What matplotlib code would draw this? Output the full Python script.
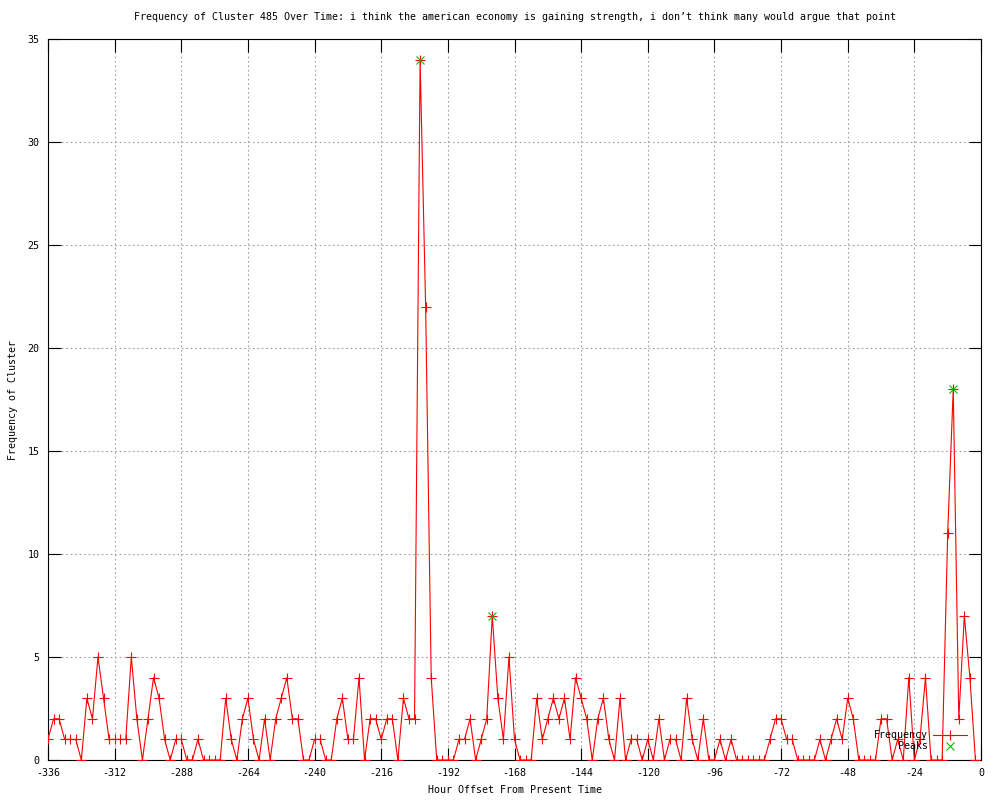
import numpy as np
import matplotlib
matplotlib.use("Agg")
import matplotlib.pyplot as plt

plt.rcParams['font.family'] = ['DejaVu Sans Mono']
plt.rcParams['axes.unicode_minus'] = False

# hours before now, every 2 hours
hours = list(range(-336, 0, 2))
freq = [1, 2, 2, 1, 1, 1, 0, 3, 2, 5, 3, 1, 1, 1, 1, 5, 2, 0, 2, 4,
        3, 1, 0, 1, 1, 0, 0, 1, 0, 0, 0, 0, 3, 1, 0, 2, 3, 1, 0, 2,
        0, 2, 3, 4, 2, 2, 0, 0, 1, 1, 0, 0, 2, 3, 1, 1, 4, 0, 2, 2,
        1, 2, 2, 0, 3, 2, 2, 34, 22, 4, 0, 0, 0, 0, 1, 1, 2, 0, 1, 2,
        7, 3, 1, 5, 1, 0, 0, 0, 3, 1, 2, 3, 2, 3, 1, 4, 3, 2, 0, 2,
        3, 1, 0, 3, 0, 1, 1, 0, 1, 0, 2, 0, 1, 1, 0, 3, 1, 0, 2, 0,
        0, 1, 0, 1, 0, 0, 0, 0, 0, 0, 1, 2, 2, 1, 1, 0, 0, 0, 0, 1,
        0, 1, 2, 1, 3, 2, 0, 0, 0, 0, 2, 2, 0, 1, 0, 4, 0, 1, 4, 0,
        0, 0, 11, 18, 2, 7, 4, 0]

peak_hours = [-202, -176, -10]
peak_vals = [34, 7, 18]

xticks = list(range(-336, 1, 24))
yticks = list(range(0, 36, 5))

title = ("Frequency of Cluster 485 Over Time: i think the american economy is "
         "gaining strength, i don\u2019t think many would argue that point")

fig = plt.figure(figsize=(10, 8), dpi=100)
ax = fig.add_axes([0.048, 0.05, 0.933, 0.901])

ax.plot(hours, freq, color='#ff0000', lw=0.8, marker='+', ms=7, mew=0.8,
        label='Frequency', zorder=3)
ax.plot(peak_hours, peak_vals, ls='none', color='#00c000', marker='x', ms=5.5,
        mew=0.8, label='    Peaks', zorder=4)

ax.set_xlim(-336, 0)
ax.set_ylim(0, 35)
ax.set_xticks(xticks)
ax.set_yticks(yticks)
ax.tick_params(direction='in', length=9, width=0.8, labelsize=7.2,
               top=True, right=True, colors='black')
ax.tick_params(axis='x', pad=6)
ax.tick_params(axis='y', pad=6)
ax.grid(True, color='#a0a0a0', ls=(0, (1.5, 2.5)), lw=0.8)
ax.set_axisbelow(True)
for s in ax.spines.values():
    s.set_linewidth(0.8)

ax.set_title(title, fontsize=7.2, pad=14)
ax.set_xlabel("Hour Offset From Present Time", fontsize=7.2, labelpad=5)
ax.set_ylabel("Frequency of Cluster", fontsize=7.2, labelpad=7)

leg = ax.legend(loc='lower right', bbox_to_anchor=(0.995, 0.0), frameon=False,
                markerfirst=False, fontsize=7.2, handlelength=3.4,
                handletextpad=0.5, labelspacing=0.1, borderpad=0.4)

fig.savefig("out.png", dpi=100)
